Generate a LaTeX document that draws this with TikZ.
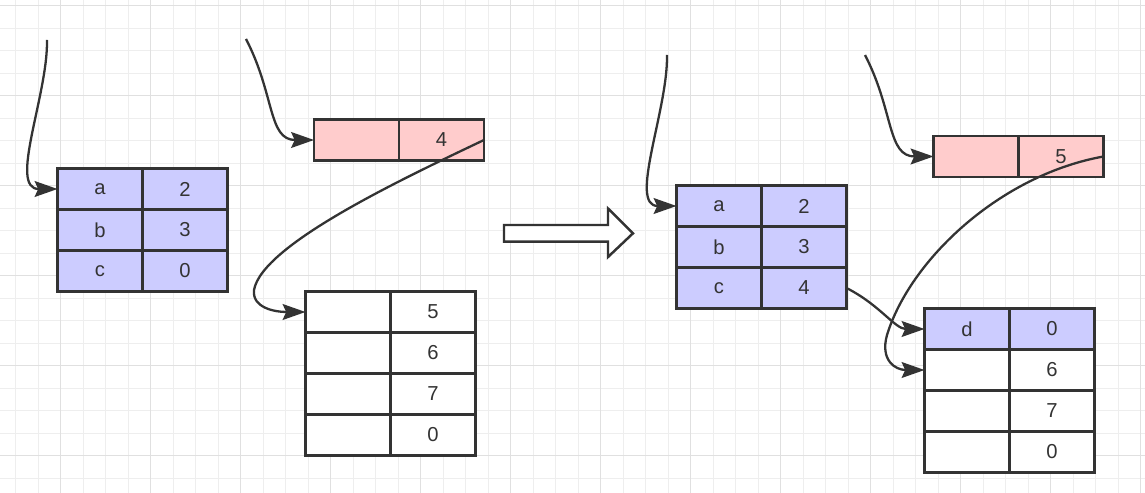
\documentclass[tikz,border=0pt]{standalone}
\usepackage{fontspec}
\setmainfont{Liberation Sans}
\usetikzlibrary{arrows.meta, positioning}
\definecolor{inkgray}{HTML}{333333}
\definecolor{keyblue}{HTML}{CCCCFF}
\definecolor{slotpink}{HTML}{FFCCCC}
\definecolor{gridminor}{HTML}{EEEEEE}
\definecolor{gridmajor}{HTML}{E0E0E0}
\tikzset{
  cell/.style={draw=inkgray, line width=1.4pt, minimum width=1.7cm, minimum height=0.82cm,
    inner sep=0pt, outer sep=0pt, text=inkgray, font=\fontsize{11.5}{13}\selectfont},
  keycell/.style={cell, fill=keyblue},
  slotcell/.style={cell, fill=slotpink},
  emptycell/.style={cell, fill=white},
  link/.style={draw=inkgray, line width=1.3pt, -{Stealth[length=13pt, width=9pt, inset=2pt]}},
}

\begin{document}
\begin{tikzpicture}[x=0.02cm, y=-0.02cm]
    \useasboundingbox (0,0) rectangle (1145,493);
    % Grid paper
    \fill[white] (0,0) rectangle (1145,493);
    \foreach \x in {15.7,38.2,...,1145} \draw[gridminor, line width=0.7pt] (\x,0) -- (\x,493);
    \foreach \y in {5.7,28.2,...,493} \draw[gridminor, line width=0.7pt] (0,\y) -- (1145,\y);
    \foreach \x in {60.7,150.7,...,1145} \draw[gridmajor, line width=0.7pt] (\x,0) -- (\x,493);
    \foreach \y in {5.7,95.7,...,493} \draw[gridmajor, line width=0.7pt] (0,\y) -- (1145,\y);

    % Before: table, slot, bucket
    \foreach \k/\v [count=\i] in {a/2, b/3, c/0} {
        \node[keycell] (k\i) at (100,{189+41*(\i-1)}) {\k};
        \node[keycell, right=0pt of k\i] (v\i) {\v};
    }
    \node[slotcell] (p1l) at (356.5,140) {};
    \node[slotcell, right=0pt of p1l] (p1r) {4};
    \foreach \v [count=\i] in {5, 6, 7, 0} {
        \node[emptycell] (w\i) at (348,{312+41*(\i-1)}) {};
        \node[emptycell, right=0pt of w\i] (wv\i) {\v};
    }

    % After: table, slot, bucket
    \foreach \k/\v [count=\i] in {a/2, b/3, c/4} {
        \node[keycell] (kk\i) at (719,{206+41*(\i-1)}) {\k};
        \node[keycell, right=0pt of kk\i] (vv\i) {\v};
    }
    \node[slotcell] (p2l) at (976,156.5) {};
    \node[slotcell, right=0pt of p2l] (p2r) {5};
    \node[keycell] (ww1) at (967,329) {d};
    \node[keycell, right=0pt of ww1] (wwv1) {0};
    \foreach \v [count=\i from 2] in {6, 7, 0} {
        \node[emptycell] (ww\i) at (967,{329+41*(\i-1)}) {};
        \node[emptycell, right=0pt of ww\i] (wwv\i) {\v};
    }

    % Pointer starts
    \coordinate (s1) at (47,40);
    \coordinate (s2) at (246,39);
    \coordinate (s3) at (667,55);
    \coordinate (s4) at (865,55);

    % Links
    \draw[link] (s1) .. controls (48,95) and (8,189) .. (k1.west);
    \draw[link] (s2) .. controls (275,95) and (268,140) .. (p1l.west);
    \draw[link] (p1r.east) .. controls (400,180) and (262,245) .. (254,290)
                           .. controls (252,308) and (275,312) .. (w1.west);
    \draw[link] (s3) .. controls (668,110) and (628,206) .. (kk1.west);
    \draw[link] (s4) .. controls (894,111) and (887,156.5) .. (p2l.west);
    \draw[link] (p2r.east) .. controls (1000,175) and (910,260) .. (887,335)
                           .. controls (880,360) and (895,370) .. (ww2.west);
    \draw[link] (vv3.east) .. controls (880,305) and (895,329) .. (ww1.west);

    % Big hollow arrow
    \draw[inkgray, line width=1.4pt, fill=white, line join=miter]
        (504,225) -- (608,225) -- (608,208.5) -- (633,233.3) -- (608,257)
        -- (608,241.7) -- (504,241.7) -- cycle;
\end{tikzpicture}
\end{document}
